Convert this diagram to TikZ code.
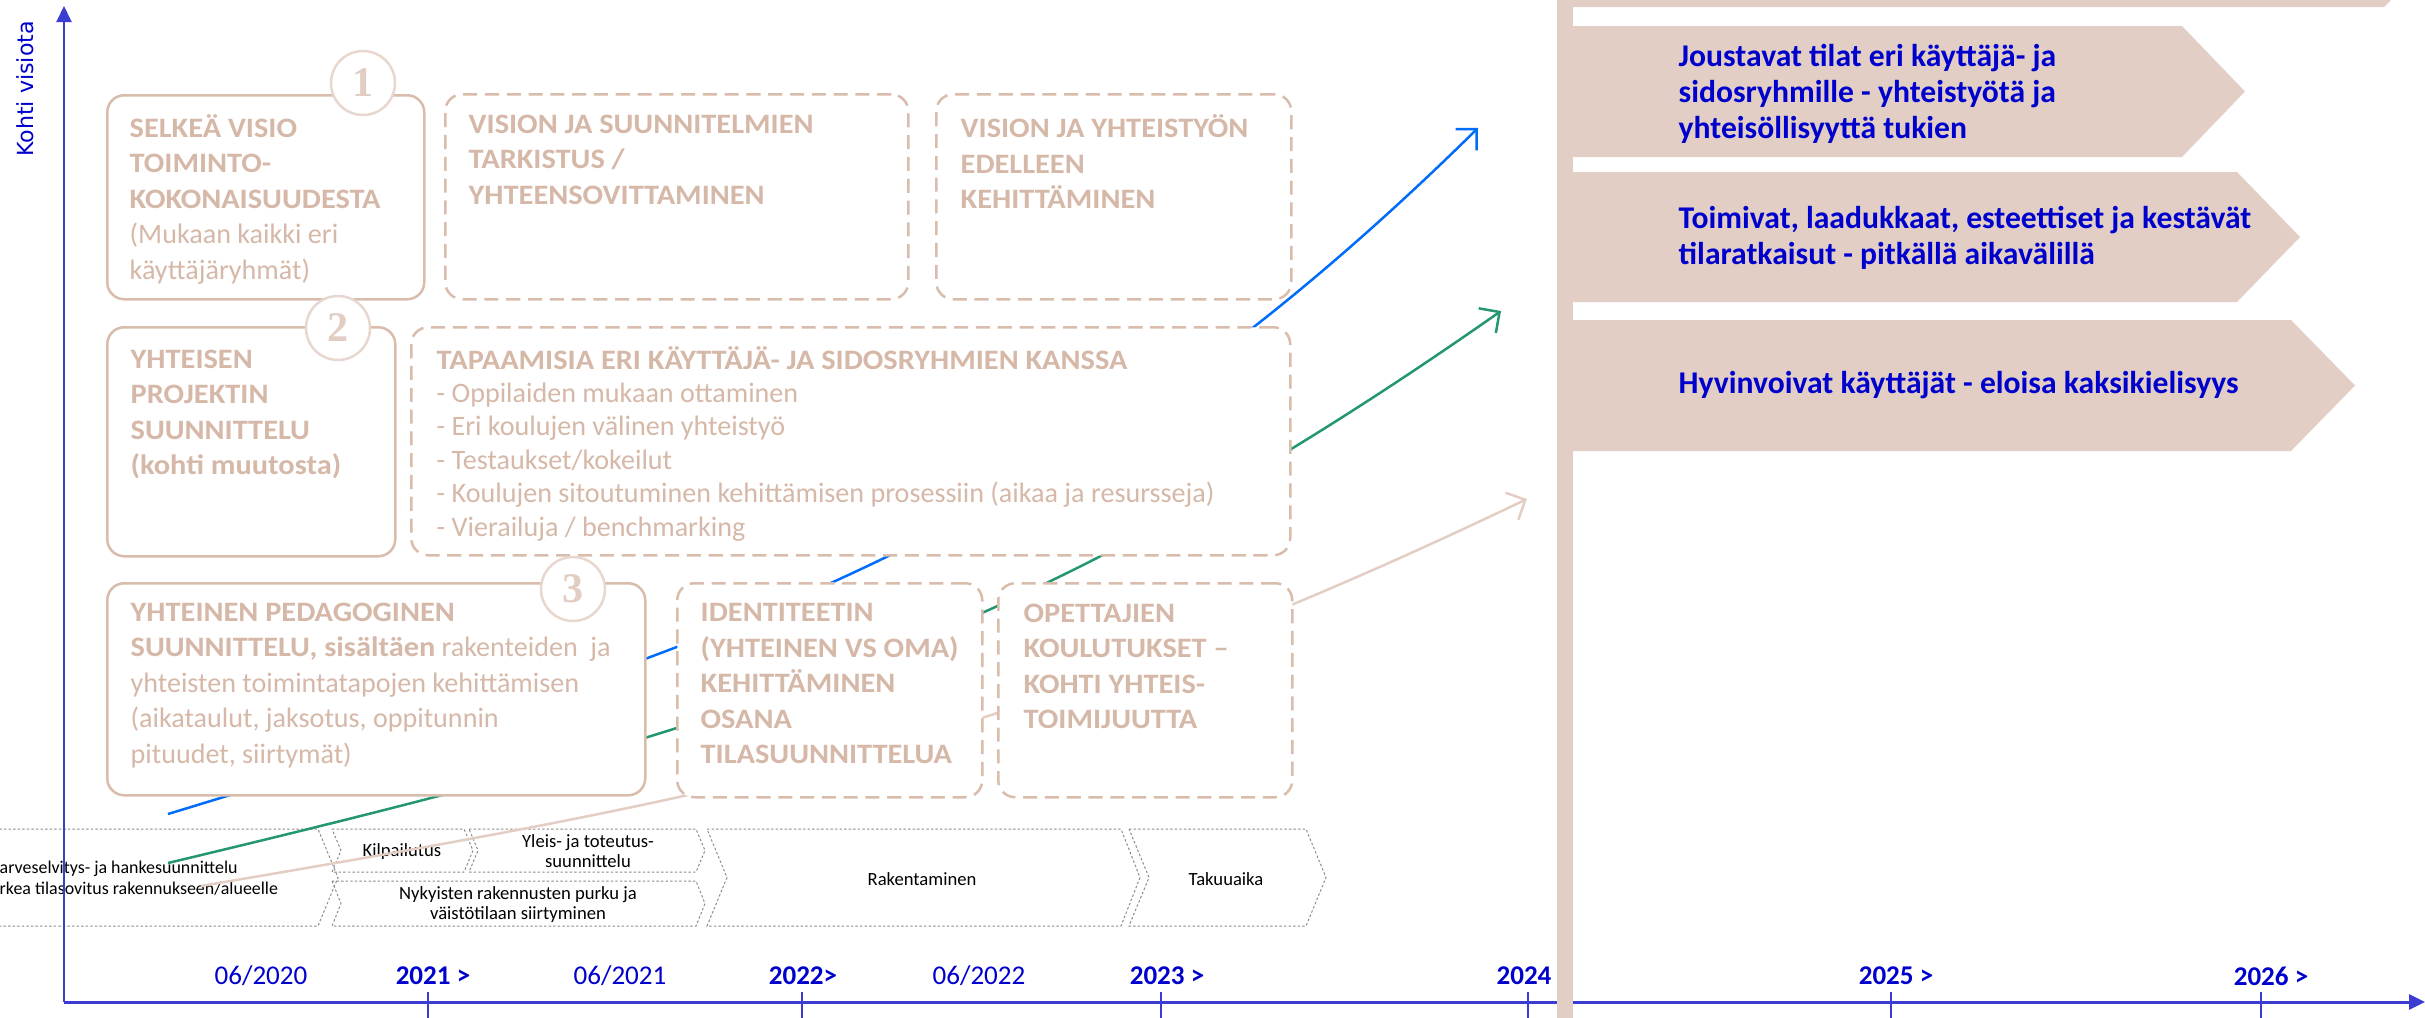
\documentclass[tikz,border=0pt]{standalone}
\usepackage{fontspec}
\setmainfont{Carlito}
\newfontfamily\headfont{Carlito}[FakeStretch=1.08]
\newfontfamily\axisfont{DejaVu Sans}
\newfontfamily\numfont{Liberation Serif}
\newcommand\boxhd[1]{{\headfont\bfseries #1}}
\usepackage{tikz}
\usetikzlibrary{arrows.meta,positioning}
\definecolor{boxline}{RGB}{217,188,172}
\definecolor{boxtxt}{RGB}{214,184,168}
\definecolor{circline}{RGB}{232,215,207}
\definecolor{numtxt}{RGB}{226,205,195}
\definecolor{goalc}{RGB}{226,206,196}
\definecolor{lbl}{RGB}{0,0,204}
\definecolor{axisc}{RGB}{60,60,210}
\definecolor{phaseline}{RGB}{140,140,140}
\definecolor{trendblue}{RGB}{0,108,250}
\definecolor{trendgreen}{RGB}{36,150,112}

\begin{document}
\begin{tikzpicture}[x=0.1mm, y=-0.1mm,
    solidbox/.style={rectangle, draw=boxline, line width=0.25mm, rounded corners=1.7mm, fill=white, anchor=north west, inner sep=0pt},
    dashbox/.style={solidbox, dash pattern=on 4pt off 2.2pt},
    txt/.style={inner sep=0pt, align=left, text=boxtxt, font=\fontsize{8}{10.1}\selectfont, execute at begin node=\strut},
    numc/.style={circle, draw=circline, line width=0.25mm, fill=white, minimum size=6.4mm, inner sep=0pt, text=numtxt, font=\numfont\bfseries\fontsize{12}{12}\selectfont},
    trend/.style={line width=0.25mm, -{Straight Barb[length=1.5mm,width=3mm]}},
    timeaxis/.style={draw=axisc, -{Triangle[length=1.6mm,width=1.5mm]}},
    tickmark/.style={draw=axisc, line width=0.15mm},
    mo/.style={text=lbl, inner sep=0pt, font=\fontsize{7.7}{9}\selectfont},
    yr/.style={mo, font=\bfseries\fontsize{7.7}{9}\selectfont},
    phasebox/.style={draw=phaseline, line width=0.1mm, dash pattern=on 0.7pt off 0.6pt},
    ptxt/.style={align=center, inner sep=0pt, font=\fontsize{5.3}{5.7}\selectfont},
    gtxt/.style={anchor=west, align=left, inner sep=0pt, text=lbl, font=\bfseries\fontsize{9}{10.2}\selectfont}
]
\useasboundingbox (0,0) rectangle (2425,1018);
\clip (0,0) rectangle (2425,1018);

\draw[phasebox] (-60,829) -- (318,829) -- (338,877.5) -- (318,926) -- (-60,926);
\draw[phasebox] (332,829) -- (464,829) -- (473,850.5) -- (464,872) -- (332,872) -- (341,850.5) -- cycle;
\draw[phasebox] (469,829) -- (696,829) -- (705,850.5) -- (696,872) -- (469,872) -- (478,850.5) -- cycle;
\draw[phasebox] (332,881) -- (696,881) -- (705,903.5) -- (696,926) -- (332,926) -- (341,903.5) -- cycle;
\draw[phasebox] (707,829) -- (1121,829) -- (1140,877.5) -- (1121,926) -- (707,926) -- (727,877.5) -- cycle;
\draw[phasebox] (1129,829) -- (1306,829) -- (1326,877.5) -- (1306,926) -- (1129,926) -- (1149,877.5) -- cycle;
\node[ptxt, anchor=west, align=left, font=\fontsize{5.1}{6}\selectfont] (tarve) at (-1,878.5) {arveselvitys- ja hankesuunnittelu\\rkea tilasovitus rakennukseen/alueelle};
\node[ptxt] (kilp) at (402,852) {Kilpailutus};
\node[ptxt] (yleis) at (588,851) {Yleis- ja toteutus-\\suunnittelu};
\node[ptxt] (purku) at (518,905) {Nykyisten rakennusten purku ja\\väistötilaan siirtyminen};
\node[ptxt] (rak) at (922,879) {Rakentaminen};
\node[ptxt] (takuu) at (1226,879) {Takuuaika};

\coordinate (s1) at (168,814);
\coordinate (e1) at (1478,128);
\coordinate (s2) at (168,863);
\coordinate (e2) at (1501,311);
\coordinate (s3) at (201,886);
\coordinate (e3) at (1527,499);
\draw[trend, trendblue] (s1) .. controls (732,642) and (1060,540) .. (e1);
\draw[trend, trendgreen] (s2) .. controls (729,729) and (1028,642) .. (e2);
\draw[trend, goalc] (s3) .. controls (745,794) and (1029,737) .. (e3);

\node[solidbox, minimum width=31.7mm, minimum height=20.4mm] (f1) at (106,94) {};
\node[dashbox, minimum width=46.3mm, minimum height=20.5mm] (f2) at (444,93) {};
\node[dashbox, minimum width=35.5mm, minimum height=20.5mm] (f3) at (935,93) {};
\node[solidbox, minimum width=28.8mm, minimum height=22.9mm] (f4) at (106,326) {};
\node[dashbox, minimum width=87.9mm, minimum height=22.8mm] (f5) at (410,326) {};
\node[solidbox, minimum width=53.8mm, minimum height=21.2mm] (f6) at (106,582) {};
\node[dashbox, minimum width=30.5mm, minimum height=21.4mm] (f7) at (676,582) {};
\node[dashbox, minimum width=29.4mm, minimum height=21.4mm] (f8) at (997,582) {};

\node[txt, below right=1.95mm and 2.3mm of f1.north west] (t1) {\boxhd{SELKEÄ VISIO}\\\boxhd{TOIMINTO-}\\\boxhd{KOKONAISUUDESTA}\\(Mukaan kaikki eri\\käyttäjäryhmät)};
\node[txt, below right=2.1mm and 2.4mm of f2.north west] (t2) {\boxhd{VISION JA SUUNNITELMIEN}\\\boxhd{TARKISTUS /}\\\boxhd{YHTEENSOVITTAMINEN}};
\node[txt, below right=2.1mm and 2.5mm of f3.north west] (t3) {\boxhd{VISION JA YHTEISTYÖN}\\\boxhd{EDELLEEN}\\\boxhd{KEHITTÄMINEN}};
\node[txt, below right=2.3mm and 2.4mm of f4.north west] (t4) {\boxhd{YHTEISEN}\\\boxhd{PROJEKTIN}\\\boxhd{SUUNNITTELU}\\\boxhd{(kohti muutosta)}};
\node[txt, font=\fontsize{8}{9.5}\selectfont, below right=1.95mm and 2.6mm of f5.north west] (t5) {\boxhd{TAPAAMISIA ERI KÄYTTÄJÄ- JA SIDOSRYHMIEN KANSSA}\\- Oppilaiden mukaan ottaminen\\- Eri koulujen välinen yhteistyö\\- Testaukset/kokeilut\\- Koulujen sitoutuminen kehittämisen prosessiin (aikaa ja resursseja)\\- Vierailuja / benchmarking};
\node[txt, below right=2.0mm and 2.4mm of f6.north west] (t6) {\boxhd{YHTEINEN PEDAGOGINEN}\\\boxhd{SUUNNITTELU, sisältäen} rakenteiden\ \ ja\\yhteisten toimintatapojen kehittämisen\\(aikataulut, jaksotus, oppitunnin\\pituudet, siirtymät)};
\node[txt, below right=2.1mm and 2.4mm of f7.north west] (t7) {\boxhd{IDENTITEETIN}\\\boxhd{(YHTEINEN VS OMA)}\\\boxhd{KEHITTÄMINEN}\\\boxhd{OSANA}\\\boxhd{TILASUUNNITTELUA}};
\node[txt, below right=2.1mm and 2.6mm of f8.north west] (t8) {\boxhd{OPETTAJIEN}\\\boxhd{KOULUTUKSET –}\\\boxhd{KOHTI YHTEIS-}\\\boxhd{TOIMIJUUTTA}};

\node[numc] (n1) at (363,83) {1};
\node[numc] (n2) at (338,328) {2};
\node[numc] (n3) at (573,589) {3};

\coordinate (o) at (64,1002);
\coordinate (ytip) at (64,6);
\coordinate (xtip) at (2425,1002);
\draw[timeaxis, line width=0.2mm] (o) -- (ytip);
\draw[timeaxis, line width=0.3mm] (o) -- (xtip);
\foreach \x in {428,802,1161,1528,1891,2261}
    \draw[tickmark] (\x,992) -- (\x,1020);
\node[mo] (m20) at (261,976) {06/2020};
\node[yr] (y21) at (433,976) {2021 >};
\node[mo] (m21) at (620,976) {06/2021};
\node[yr] (y22) at (803,976) {2022>};
\node[mo] (m22) at (979,976) {06/2022};
\node[yr] (y23) at (1167,976) {2023 >};
\node[yr] (y24) at (1524,976) {2024};
\node[yr] (y25) at (1896,976) {2025 >};
\node[yr] (y26) at (2271,976) {2026 >};
\node[rotate=90, text=lbl, inner sep=0pt, font=\axisfont\fontsize{6.3}{7}\selectfont] (kv) at (25,89) {Kohti visiota};

\fill[goalc] (1557,-2) rectangle (1573,1020);
\fill[goalc] (1573,-2) -- (2393,-2) -- (2384,7) -- (1573,7) -- cycle;
\fill[goalc] (1573,26) -- (2182,26) -- (2245,91.5) -- (2182,157) -- (1573,157) -- cycle;
\fill[goalc] (1573,172) -- (2237,172) -- (2300,237) -- (2237,302) -- (1573,302) -- cycle;
\fill[goalc] (1573,320) -- (2291,320) -- (2355,385.5) -- (2291,451) -- (1573,451) -- cycle;
\node[gtxt] (g1) at (1678,94) {Joustavat tilat eri käyttäjä- ja\\sidosryhmille - yhteistyötä ja\\yhteisöllisyyttä tukien};
\node[gtxt] (g2) at (1678,237.5) {Toimivat, laadukkaat, esteettiset ja kestävät\\tilaratkaisut - pitkällä aikavälillä};
\node[gtxt] (g3) at (1678,385) {Hyvinvoivat käyttäjät - eloisa kaksikielisyys};
\end{tikzpicture}
\end{document}
